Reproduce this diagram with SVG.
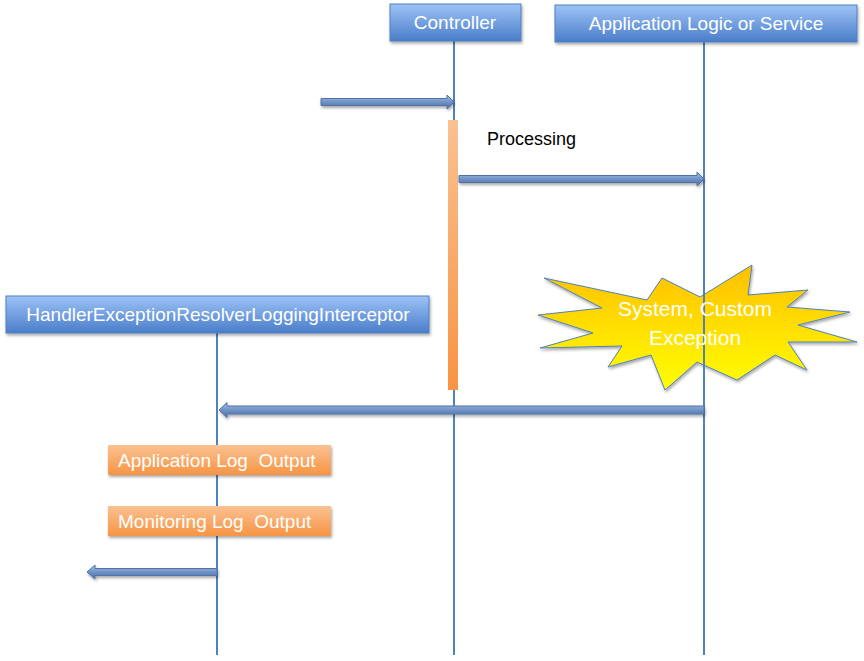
<svg xmlns="http://www.w3.org/2000/svg" width="864" height="661" viewBox="0 0 864 661">
<defs>
<linearGradient id="gBlue" x1="0" y1="0" x2="0" y2="1">
<stop offset="0" stop-color="#9DC3F7"/>
<stop offset="1" stop-color="#4A7DC9"/>
</linearGradient>
<linearGradient id="gOrange" x1="0" y1="0" x2="0" y2="1">
<stop offset="0" stop-color="#FAC192"/>
<stop offset="1" stop-color="#F79443"/>
</linearGradient>
<linearGradient id="gStar" x1="0" y1="0" x2="0" y2="1">
<stop offset="0" stop-color="#FFBF00"/>
<stop offset="1" stop-color="#FFFF00"/>
</linearGradient>
<linearGradient id="gArrow" x1="0" y1="0" x2="0" y2="1">
<stop offset="0" stop-color="#A9C0E0"/>
<stop offset="0.5" stop-color="#6F93C6"/>
<stop offset="1" stop-color="#4A6FA5"/>
</linearGradient>
<filter id="sh" x="-10%" y="-20%" width="120%" height="150%">
<feGaussianBlur in="SourceAlpha" stdDeviation="1.5"/>
<feOffset dx="1" dy="2" result="b"/>
<feComponentTransfer><feFuncA type="linear" slope="0.35"/></feComponentTransfer>
<feMerge><feMergeNode/><feMergeNode in="SourceGraphic"/></feMerge>
</filter>
</defs>
<style>
.box{fill:url(#gBlue);stroke:#4F81BD;stroke-width:1}
.lbl{font-family:"Liberation Sans",Arial,sans-serif;fill:#ffffff;font-size:19px;text-anchor:middle}
.big{font-size:21px}
.life{stroke:#4F81BD;stroke-width:2;fill:none}
.arr{fill:url(#gArrow);stroke:#4F72A8;stroke-width:1}
.log{fill:url(#gOrange)}
.loglbl{font-family:"Liberation Sans",Arial,sans-serif;fill:#ffffff;font-size:19px}
</style>
<rect width="864" height="661" fill="#ffffff"/>

<g id="lifelines">
<line class="life" x1="454" y1="41" x2="454" y2="655"/>
<line class="life" x1="217" y1="333" x2="217" y2="655"/>
</g>

<g id="exception">
<polygon points="544,278 647,300 662,278 700,297 752,265 748,295 808,290 787,307 850,312 798,325 857,342 788,342 807,370 775,355 737,380 697,362 665,390 651,355 608,367 622,346 540,348 593,333 538,315 602,308" fill="url(#gStar)" stroke="#4F81BD" stroke-width="1" filter="url(#sh)"/>
</g>
<line class="life" x1="704" y1="42" x2="704" y2="655"/>
<g id="exception-text">
<text class="lbl big" x="695" y="316">System, Custom</text>
<text class="lbl big" x="695" y="345">Exception</text>
</g>

<g id="controller">
<rect class="box" x="390" y="4" width="131" height="37" filter="url(#sh)"/>
<text class="lbl" x="455" y="29">Controller</text>
</g>
<g id="service">
<rect class="box" x="555" y="5" width="302" height="37" filter="url(#sh)"/>
<text class="lbl" x="706" y="30">Application Logic or Service</text>
</g>
<g id="interceptor">
<rect class="box" x="6" y="296" width="423" height="37" filter="url(#sh)"/>
<text class="lbl" x="218" y="321">HandlerExceptionResolverLoggingInterceptor</text>
</g>

<g id="activation">
<rect x="448" y="120" width="10" height="270" fill="url(#gOrange)"/>
</g>

<g id="processing">
<text x="487" y="145" font-family="'Liberation Sans',Arial,sans-serif" font-size="18" fill="#000000">Processing</text>
</g>

<g id="connectors">
<polygon class="arr" points="321,98.5 447,98.5 447,95 454,102 447,109 447,105.5 321,105.5" filter="url(#sh)"/>
<polygon class="arr" points="459,175.5 697,175.5 697,172 704,179 697,186 697,182.5 459,182.5" filter="url(#sh)"/>
<polygon class="arr" points="704,406 227,406 227,402.5 219,410 227,417.5 227,414 704,414" filter="url(#sh)"/>
<polygon class="arr" points="217,568.5 95,568.5 95,565 87,572 95,579 95,575.5 217,575.5" filter="url(#sh)"/>
</g>

<g id="applog">
<rect class="log" x="108" y="445" width="223" height="30" filter="url(#sh)"/>
<text class="loglbl" x="118" y="467" xml:space="preserve">Application Log  Output</text>
</g>
<g id="monlog">
<rect class="log" x="108" y="506" width="223" height="30" filter="url(#sh)"/>
<text class="loglbl" x="118" y="528" xml:space="preserve">Monitoring Log  Output</text>
</g>
</svg>
